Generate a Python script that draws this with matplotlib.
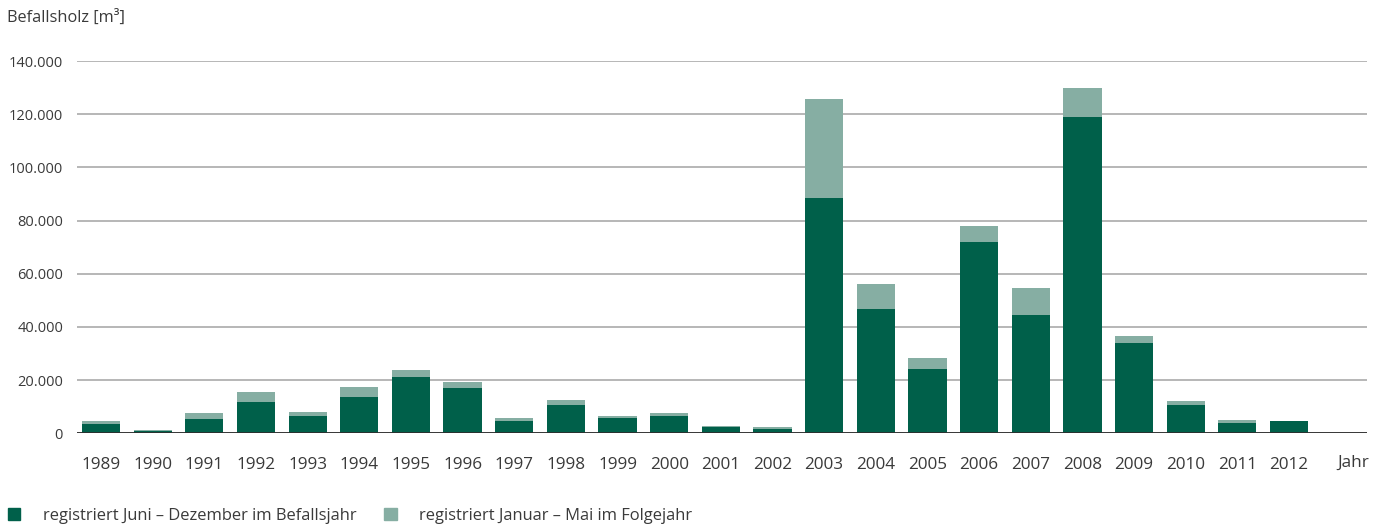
import numpy as np
import matplotlib
matplotlib.use("Agg")
from matplotlib import pyplot as plt
from matplotlib.ticker import FuncFormatter
from matplotlib.patches import Patch

# Data (m³)
years = [str(y) for y in range(1989, 2013)]
juni_dez = [3600, 1000, 5500, 11900, 6600, 13700, 21300, 17100, 4700, 10700, 5800, 6600,
            2400, 1700, 88600, 46600, 24100, 72100, 44400, 119100, 33900, 10700, 3900, 4700]
jan_mai = [1000, 300, 2200, 3700, 1500, 3800, 2600, 2400, 1100, 1900, 800, 1100,
           400, 700, 37300, 9400, 4200, 6000, 10100, 10900, 2600, 1500, 1200, 0]
yticks = [0, 20000, 40000, 60000, 80000, 100000, 120000, 140000]

dark = "#00604a"
light = "#86aea3"
txt = "#3a3a3a"

plt.rcParams['font.family'] = ['Open Sans', 'DejaVu Sans']

fig = plt.figure(figsize=(13.84, 5.31), dpi=100)
W, H = 1384, 531
ax = fig.add_axes([77 / W, 1 - 433.4 / H, (1367 - 77) / W, (433.4 - 61) / H])

x = np.arange(len(years))
ax.bar(x, juni_dez, width=0.74, color=dark, zorder=3)
ax.bar(x, jan_mai, width=0.74, bottom=juni_dez, color=light, zorder=3)

ax.set_xlim(-0.465, 24.51)
ax.set_ylim(0, 140000)
ax.set_yticks(yticks)
ax.yaxis.set_major_formatter(FuncFormatter(lambda v, p: f"{int(v):,}".replace(",", ".")))
ax.set_xticks(x)
ax.set_xticklabels(years)
ax.tick_params(axis='both', length=0, labelcolor=txt)
ax.tick_params(axis='y', pad=10, labelsize=10.5)
ax.tick_params(axis='x', pad=17, labelsize=12.3)

for s in ax.spines.values():
    s.set_visible(False)
ax.grid(axis='y', color="#a3a3a3", linewidth=1.1, zorder=1)
ax.axhline(0, color="#2e2e2e", linewidth=1.3, zorder=4)

ax.text(24.24, -0.079, "Jahr", transform=ax.get_xaxis_transform(), ha='center', va='center',
        fontsize=12.3, color=txt)
fig.text(7 / W, 1 - 18 / H, "Befallsholz [m³]", ha='left', va='center', fontsize=11.8, color=txt)

handles = [Patch(color=dark, label="registriert Juni – Dezember im Befallsjahr"),
           Patch(color=light, label="registriert Januar – Mai im Folgejahr")]
fig.legend(handles=handles, loc='center left', bbox_to_anchor=(3 / W, 1 - 516 / H), ncol=2,
           frameon=False, fontsize=11.9, labelcolor=txt, handlelength=0.75, handleheight=0.75,
           handletextpad=1.35, columnspacing=1.7, borderaxespad=0, borderpad=0.3)

fig.savefig("out.png", dpi=100)
